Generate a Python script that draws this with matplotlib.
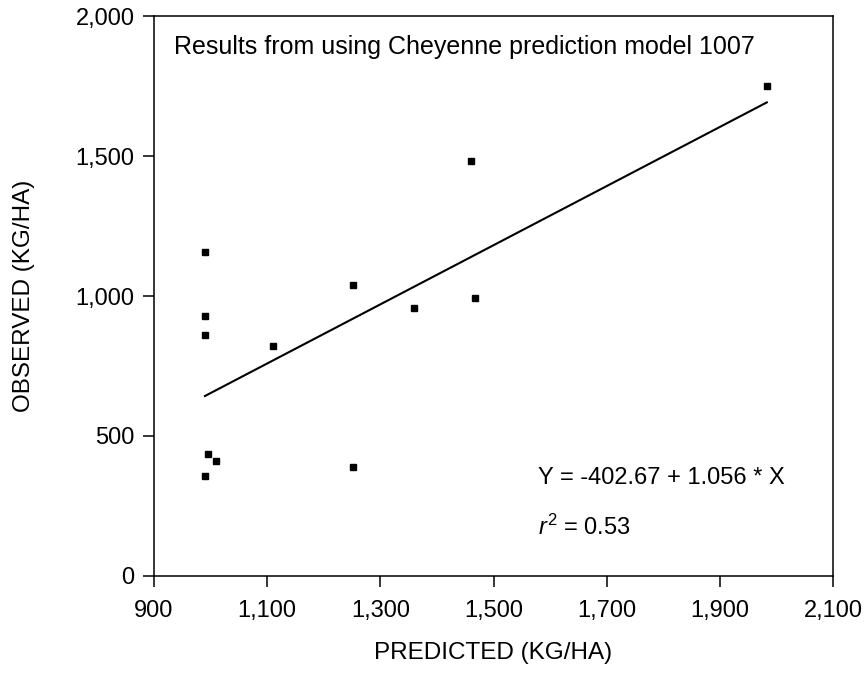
import matplotlib
matplotlib.use('Agg')
import matplotlib.pyplot as plt
import numpy as np
from matplotlib.ticker import FuncFormatter

# Data
predicted = [990, 990, 990, 1111, 1251, 1359, 1467, 1461, 1983, 996, 1009, 990, 1251]
observed = [1156, 929, 861, 821, 1039, 956, 994, 1482, 1750, 436, 411, 357, 388]
intercept = -402.67
slope = 1.056
r_squared = 0.53
x_ticks = [900, 1100, 1300, 1500, 1700, 1900, 2100]
y_ticks = [0, 500, 1000, 1500, 2000]
title_text = 'Results from using Cheyenne prediction model 1007'

plt.rcParams['font.family'] = ['Liberation Sans', 'DejaVu Sans']
plt.rcParams['mathtext.fontset'] = 'custom'
plt.rcParams['mathtext.rm'] = 'Liberation Sans'
plt.rcParams['mathtext.it'] = 'Liberation Sans:italic'

FS = 17

fig = plt.figure(figsize=(8.66, 6.77), dpi=100)
ax = fig.add_axes([154 / 866, 101 / 677, 679 / 866, 560 / 677])

# Scatter points and the fitted line over the range of the data
ax.plot(predicted, observed, 's', color='black', markersize=4.5, linestyle='none')
fit_x = np.array([min(predicted), max(predicted)])
ax.plot(fit_x, intercept + slope * fit_x, color='black', linewidth=1.5)

ax.set_xlim(900, 2100)
ax.set_ylim(0, 2000)
ax.set_xticks(x_ticks)
ax.set_yticks(y_ticks)
comma = FuncFormatter(lambda v, p: f'{int(v):,}')
ax.xaxis.set_major_formatter(comma)
ax.yaxis.set_major_formatter(comma)
ax.tick_params(axis='both', direction='out', length=8, width=1.1, labelsize=FS, pad=6)
ax.tick_params(axis='x', pad=9)
for s in ax.spines.values():
    s.set_linewidth(1.1)

ax.set_xlabel('PREDICTED (KG/HA)', fontsize=17.5)
ax.set_ylabel('OBSERVED (KG/HA)', fontsize=17.5)
ax.xaxis.set_label_coords(0.5, -0.118)
ax.yaxis.set_label_coords(-0.175, 0.5)

ax.text(0.03, 0.945, title_text, transform=ax.transAxes, fontsize=18, va='center', ha='left')
ax.text(0.565, 0.175, f'Y = {intercept} + {slope} * X', transform=ax.transAxes,
        fontsize=FS, va='center', ha='left')
ax.text(0.565, 0.0875, f'$r^2$ = {r_squared}', transform=ax.transAxes,
        fontsize=FS, va='center', ha='left')

plt.savefig('out.png', dpi=100)
plt.close()
